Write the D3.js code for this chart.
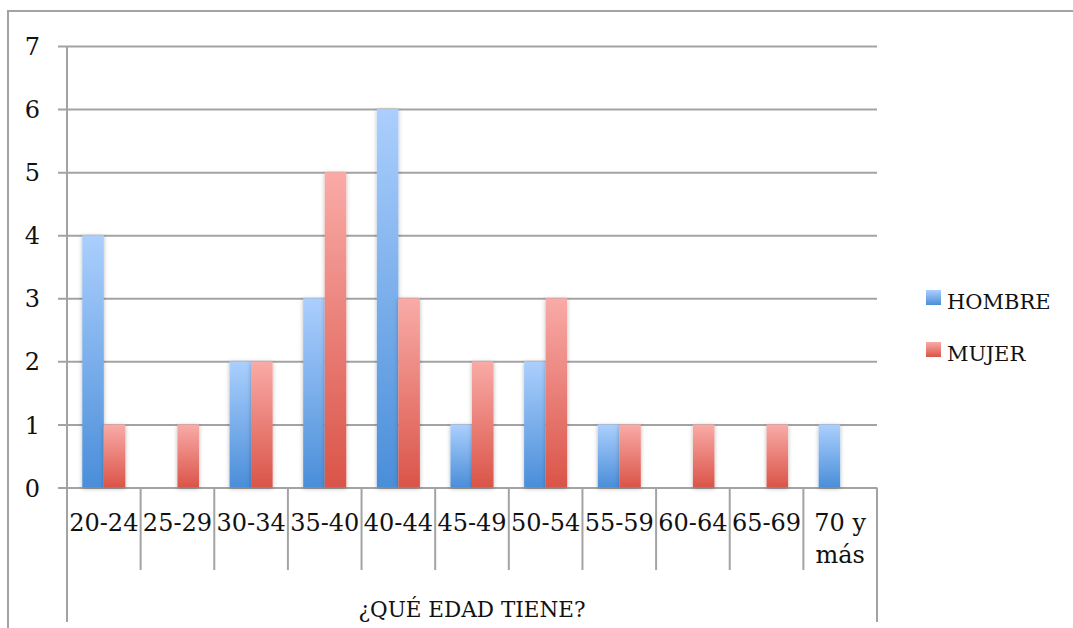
<!DOCTYPE html>
<html>
<head>
<meta charset="utf-8">
<script src="https://cdn.jsdelivr.net/npm/d3@7"></script>
<style>
  html, body { margin: 0; padding: 0; background: #fff; }
  svg { display: block; }
  text { font-family: "DejaVu Serif", "Liberation Serif", serif; fill: #111; }
</style>
</head>
<body>
<svg id="chart" width="1073" height="628"></svg>
<script>
// Age groups and respondent counts by sex
const categories = ["20-24", "25-29", "30-34", "35-40", "40-44", "45-49", "50-54", "55-59", "60-64", "65-69", "70 y más"];
const seriesNames = ["HOMBRE", "MUJER"];
const hombre = [4, 0, 2, 3, 6, 1, 2, 1, 0, 0, 1];
const mujer  = [1, 1, 2, 5, 3, 2, 3, 1, 1, 1, 0];
const yTicks = [0, 1, 2, 3, 4, 5, 6, 7];
const axisTitle = "¿QUÉ EDAD TIENE?";

const series = [hombre, mujer];
const gridColor = "#a3a3a3";

const svg = d3.select("#chart");
const defs = svg.append("defs");

// vertical gradients, light at the top of each bar
const gradStops = {
  HOMBRE: ["#abcffd", "#4a8ed9"],
  MUJER:  ["#f9aba7", "#da5448"]
};
seriesNames.forEach(name => {
  const g = defs.append("linearGradient")
    .attr("id", "grad-" + name)
    .attr("x1", 0).attr("y1", 0).attr("x2", 0).attr("y2", 1);
  g.append("stop").attr("offset", "0%").attr("stop-color", gradStops[name][0]);
  g.append("stop").attr("offset", "100%").attr("stop-color", gradStops[name][1]);
});

const shadow = defs.append("filter").attr("id", "barShadow")
  .attr("x", "-40%").attr("y", "-10%").attr("width", "180%").attr("height", "120%");
shadow.append("feDropShadow")
  .attr("dx", 0).attr("dy", 1).attr("stdDeviation", 2.2)
  .attr("flood-color", "#000").attr("flood-opacity", 0.28);

// outer chart frame (continues beyond the right and bottom edges)
svg.append("rect")
  .attr("x", 8).attr("y", 11)
  .attr("width", 1100).attr("height", 700)
  .attr("fill", "none").attr("stroke", gridColor).attr("stroke-width", 2);

const plot = { left: 67, right: 877, top: 46, bottom: 487.5 };

const x0 = d3.scaleBand().domain(categories).range([plot.left, plot.right]).padding(0);
const x1 = d3.scaleBand().domain(seriesNames).range([0, x0.bandwidth()])
  .paddingInner(0).paddingOuter(0.71);
const y = d3.scaleLinear().domain([0, 7]).range([plot.bottom, plot.top]);

// horizontal gridlines with the y axis labels
const yAxis = d3.axisLeft(y)
  .tickValues(yTicks)
  .tickSize(-(plot.right - (plot.left - 9)))
  .tickPadding(18)
  .tickFormat(d3.format("d"));

const yg = svg.append("g")
  .attr("transform", `translate(${plot.left - 9},0)`)
  .call(yAxis);
yg.select(".domain").remove();
yg.selectAll(".tick line").attr("stroke", gridColor).attr("stroke-width", 2);
yg.selectAll(".tick text")
  .attr("font-family", '"DejaVu Serif", serif')
  .attr("font-size", 24)
  .attr("fill", "#111")
  .attr("dy", "0.36em");

// vertical axis line, running down through the category area
svg.append("line")
  .attr("x1", plot.left).attr("x2", plot.left)
  .attr("y1", plot.top).attr("y2", 622)
  .attr("stroke", gridColor).attr("stroke-width", 2);

// category separators below the baseline
const boundaries = categories.map(c => x0(c)).concat([plot.right]);
svg.append("g").selectAll("line")
  .data(boundaries)
  .join("line")
  .attr("x1", d => d).attr("x2", d => d)
  .attr("y1", plot.bottom)
  .attr("y2", (d, i) => (i === 0 || i === boundaries.length - 1) ? 622 : 570)
  .attr("stroke", gridColor).attr("stroke-width", 2);

// bars
const barData = [];
categories.forEach((c, i) => {
  seriesNames.forEach((s, j) => {
    barData.push({ cat: c, name: s, value: series[j][i] });
  });
});

svg.append("g").selectAll("rect")
  .data(barData.filter(d => d.value > 0))
  .join("rect")
  .attr("x", d => x0(d.cat) + x1(d.name))
  .attr("y", d => y(d.value))
  .attr("width", x1.bandwidth())
  .attr("height", d => y(0) - y(d.value))
  .attr("fill", d => `url(#grad-${d.name})`)
  .attr("filter", "url(#barShadow)");

// category labels (wrapped when containing a space after the number)
const catLabels = svg.append("g").selectAll("text")
  .data(categories)
  .join("text")
  .attr("x", d => x0(d) + x0.bandwidth() / 2)
  .attr("y", 531)
  .attr("text-anchor", "middle")
  .attr("font-size", 24);
catLabels.each(function (d) {
  const t = d3.select(this);
  const m = d.match(/^(\S+ \S+) (.+)$/);
  const lines = m ? [m[1], m[2]] : [d];
  lines.forEach((ln, k) => {
    t.append("tspan")
      .attr("x", x0(d) + x0.bandwidth() / 2)
      .attr("dy", k === 0 ? 0 : 32)
      .text(ln);
  });
});

// axis title
svg.append("text")
  .attr("x", (plot.left + plot.right) / 2)
  .attr("y", 617)
  .attr("text-anchor", "middle")
  .attr("font-size", 21.5)
  .text(axisTitle);

// legend
const legend = svg.append("g").selectAll("g")
  .data(seriesNames)
  .join("g")
  .attr("transform", (d, i) => `translate(926,${290 + i * 52})`);
legend.append("rect")
  .attr("width", 15).attr("height", 15)
  .attr("fill", d => `url(#grad-${d})`);
legend.append("text")
  .attr("x", 21).attr("y", 19)
  .attr("font-size", 21)
  .text(d => d);
</script>
</body>
</html>
